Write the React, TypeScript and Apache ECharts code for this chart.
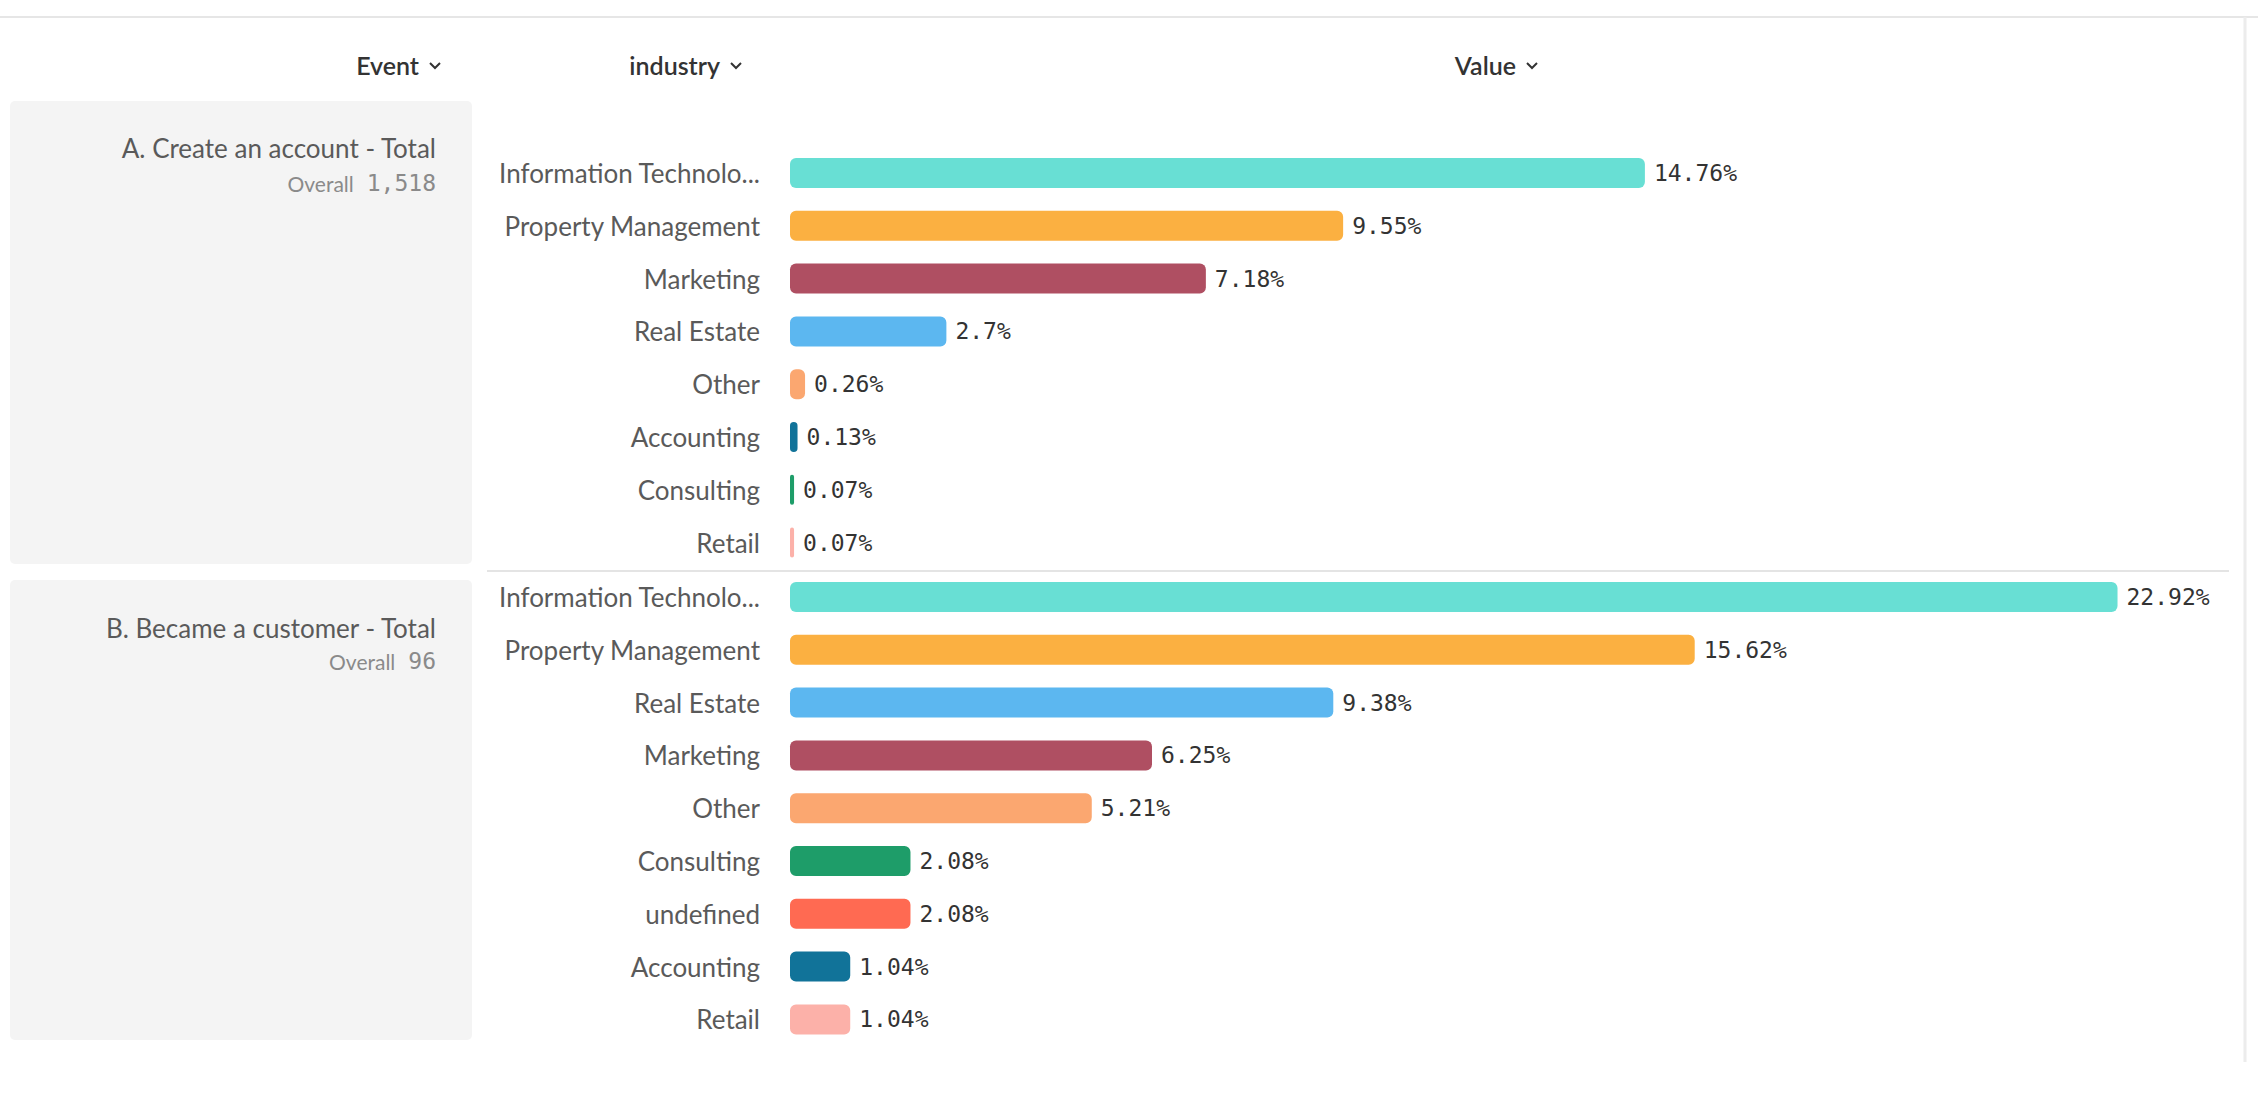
import React, { useEffect, useRef } from "react";
import * as echarts from "echarts";

const categoriesA = ["Information Technolo...", "Property Management", "Marketing", "Real Estate", "Other", "Accounting", "Consulting", "Retail"];
const valuesA = [14.76, 9.55, 7.18, 2.7, 0.26, 0.13, 0.07, 0.07];
const categoriesB = ["Information Technolo...", "Property Management", "Real Estate", "Marketing", "Other", "Consulting", "undefined", "Accounting", "Retail"];
const valuesB = [22.92, 15.62, 9.38, 6.25, 5.21, 2.08, 2.08, 1.04, 1.04];
const eventA = "A. Create an account - Total";
const overallA = "1,518";
const eventB = "B. Became a customer - Total";
const overallB = "96";
const headers = ["Event", "industry", "Value"];

const colorByCategory: Record<string, string> = {
  "Information Technolo...": "#68DFD4",
  "Property Management": "#FBB041",
  "Marketing": "#AF4F62",
  "Real Estate": "#5CB7F0",
  "Other": "#FBA770",
  "Accounting": "#117399",
  "Consulting": "#1E9D69",
  "undefined": "#FF6A52",
  "Retail": "#FCB1A9",
};

const SANS = "Lato, 'Noto Sans', sans-serif";
const MONO = "'DejaVu Sans Mono', 'Liberation Mono', monospace";

function App() {
  const ref = useRef<HTMLDivElement>(null);
  useEffect(() => {
    if (!ref.current) return;
    const chart = echarts.init(ref.current, undefined, { renderer: "svg" });
    const gridLeft = 790;
    const gridWidth = 1448;
    const xMax = 25;
    const band = 52.8;
    const topA = 173 - band / 2;
    const topB = 597 - band / 2;

    const makeSeries = (cats: string[], vals: number[], idx: number) => ({
      type: "bar",
      xAxisIndex: idx,
      yAxisIndex: idx,
      barWidth: 30,
      data: vals.map((v, i) => ({
        value: v,
        itemStyle: { color: colorByCategory[cats[i]], borderRadius: 6 },
      })),
      label: {
        show: true,
        position: "right",
        distance: 9,
        formatter: (p: any) => `${p.value}%`,
        fontFamily: MONO,
        fontSize: 23,
        color: "#333",
      },
    });

    const yAxis = (cats: string[], idx: number) => ({
      type: "category",
      gridIndex: idx,
      data: cats,
      inverse: true,
      axisLine: { show: false },
      axisTick: { show: false },
      axisLabel: { margin: 30, fontFamily: SANS, fontSize: 26, color: "#5a5a5a" },
    });

    const xAxis = (idx: number) => ({
      type: "value",
      gridIndex: idx,
      min: 0,
      max: xMax,
      show: false,
    });

    const chevron = (x: number, y: number) => ({
      type: "polyline",
      shape: { points: [[x, y - 3], [x + 5, y + 2], [x + 10, y - 3]] },
      style: { stroke: "#333", lineWidth: 2, fill: null },
    });

    const headerText = (text: string, x: number) => ({
      type: "text",
      x,
      y: 65,
      style: {
        text,
        fontFamily: SANS,
        fontSize: 25,
        fontWeight: 600,
        fill: "#333",
        align: "right",
        verticalAlign: "middle",
      },
    });

    const eventTitle = (text: string, y: number) => ({
      type: "text",
      x: 436,
      y,
      style: {
        text,
        fontFamily: SANS,
        fontSize: 26,
        fill: "#5a5a5a",
        align: "right",
        verticalAlign: "middle",
      },
    });

    const overallText = (num: string, y: number) => ({
      type: "text",
      x: 436,
      y,
      style: {
        text: `{a|Overall}{b|${num}}`,
        align: "right",
        verticalAlign: "middle",
        rich: {
          a: { fontFamily: SANS, fontSize: 21, fill: "#8a8a8a", color: "#8a8a8a" },
          b: { fontFamily: MONO, fontSize: 23, fill: "#8a8a8a", color: "#8a8a8a", padding: [0, 0, 0, 13] },
        },
      },
    });

    chart.setOption({
      animation: false,
      grid: [
        { left: gridLeft, width: gridWidth, top: topA, height: band * categoriesA.length },
        { left: gridLeft, width: gridWidth, top: topB, height: band * categoriesB.length },
      ],
      xAxis: [xAxis(0), xAxis(1)],
      yAxis: [yAxis(categoriesA, 0), yAxis(categoriesB, 1)],
      series: [makeSeries(categoriesA, valuesA, 0), makeSeries(categoriesB, valuesB, 1)],
      graphic: [
        { type: "line", shape: { x1: 0, y1: 17, x2: 2258, y2: 17 }, style: { stroke: "#e6e6e6", lineWidth: 2 } },
        { type: "line", shape: { x1: 2245, y1: 17, x2: 2245, y2: 1062 }, style: { stroke: "#ececec", lineWidth: 3 } },
        { type: "rect", shape: { x: 10, y: 101, width: 462, height: 463, r: 5 }, style: { fill: "#f4f4f4" } },
        { type: "rect", shape: { x: 10, y: 580, width: 462, height: 460, r: 5 }, style: { fill: "#f4f4f4" } },
        { type: "line", shape: { x1: 487, y1: 571, x2: 2229, y2: 571 }, style: { stroke: "#e4e4e4", lineWidth: 2 } },
        headerText(headers[0], 419),
        chevron(430, 66),
        headerText(headers[1], 720),
        chevron(731, 66),
        headerText(headers[2], 1516),
        chevron(1527, 66),
        eventTitle(eventA, 148),
        overallText(overallA, 183),
        eventTitle(eventB, 628),
        overallText(overallB, 661),
      ],
    });
    return () => chart.dispose();
  }, []);
  return (
    <div
      ref={ref}
      style={{ position: "fixed", left: 0, top: 0, width: 2258, height: 1108, background: "#fff" }}
    />
  );
}

export default App;
